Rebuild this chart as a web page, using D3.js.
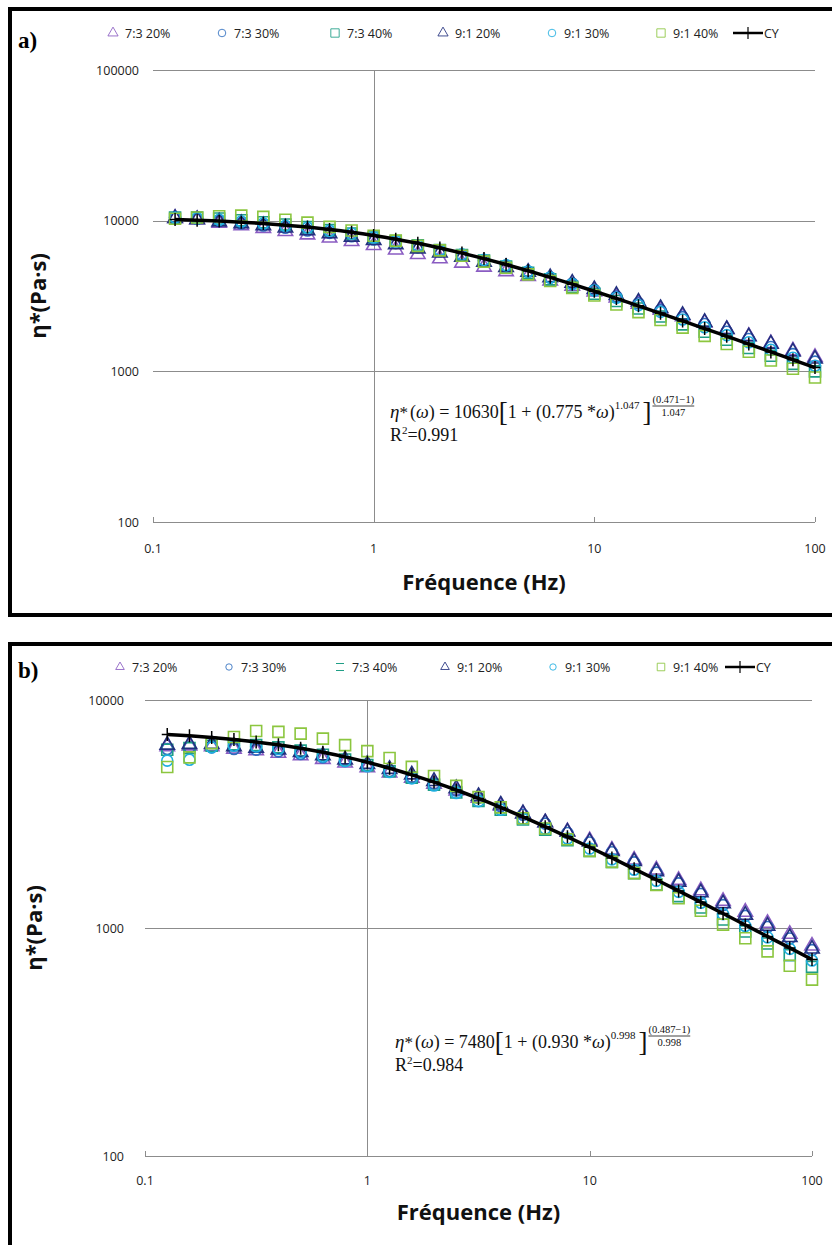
<!DOCTYPE html>
<html><head><meta charset="utf-8">
<script src="https://cdn.jsdelivr.net/npm/d3@7"></script>
<style>body{margin:0;background:#fff;} svg{display:block;}</style>
</head><body><svg id="c" width="832" height="1245"></svg>
<script>
// ---------- DATA ----------
const freq = [0.1259,0.1585,0.1995,0.2512,0.3162,0.3981,0.5012,0.6310,0.7943,1.000,1.259,1.585,1.995,2.512,3.162,3.981,5.012,6.310,7.943,10.00,12.59,15.85,19.95,25.12,31.62,39.81,50.12,63.10,79.43,100.0];
const seriesNames = ["7:3 20%","7:3 30%","7:3 40%","9:1 20%","9:1 30%","9:1 40%"];
const cyName = "CY";

// Panel a)
const a_73_20 = [10390,10180,9640,9290,8910,8500,8070,7690,7290,6860,6410,5980,5600,5240,4930,4600,4280,3990,3680,3370,3080,2800,2550,2310,2100,1900,1710,1530,1370,1240];
const a_73_30 = [10490,10280,9940,9580,9290,8970,8610,8300,7880,7500,7090,6650,6260,5850,5430,5010,4600,4200,3830,3470,3140,2830,2550,2290,2060,1830,1640,1450,1300,1160];
const a_73_40 = [10490,10480,10340,10070,9770,9430,9060,8650,8210,7740,7310,6860,6390,5910,5430,4960,4510,4080,3640,3270,2930,2610,2310,2050,1830,1620,1430,1270,1120,1000];
const a_91_20 = [10390,10180,9840,9580,9290,8970,8610,8220,7790,7420,6930,6510,6130,5730,5320,4910,4560,4200,3860,3500,3200,2890,2620,2360,2120,1900,1700,1520,1350,1210];
const a_91_30 = [10490,10380,10140,9870,9580,9250,8970,8570,8210,7740,7310,6860,6390,5970,5490,5060,4600,4200,3790,3440,3080,2750,2480,2210,1960,1740,1560,1390,1230,1090];
const a_91_40 = [10300,10500,10700,10800,10600,10150,9700,9100,8600,7950,7370,6800,6350,5850,5350,4870,4400,3980,3580,3190,2780,2470,2190,1950,1720,1520,1350,1180,1040,910];
const a_cy    = [10189,10078,9942,9777,9577,9340,9062,8741,8379,7976,7538,7072,6588,6093,5599,5115,4648,4204,3789,3402,3047,2722,2428,2162,1923,1708,1517,1346,1194,1059];

// Panel b)
const b_73_20 = [6250,6300,6250,6100,6000,5850,5700,5500,5300,5050,4800,4550,4280,4000,3720,3430,3160,2900,2650,2420,2200,1990,1800,1620,1460,1310,1175,1050,940,835];
const b_73_30 = [6100,6200,6200,6100,6050,5950,5800,5600,5400,5150,4880,4600,4300,4010,3720,3420,3140,2870,2610,2370,2150,1940,1750,1570,1410,1260,1130,1010,900,800];
const b_73_40 = [6050,6150,6300,6400,6350,6200,6000,5750,5480,5180,4870,4560,4250,3930,3610,3300,2990,2700,2430,2180,1950,1740,1550,1380,1230,1090,965,855,760,675];
const b_91_20 = [6350,6400,6400,6250,6160,6050,5900,5700,5470,5230,4970,4700,4400,4090,3780,3470,3180,2900,2640,2390,2170,1960,1770,1590,1430,1280,1140,1020,910,810];
const b_91_30 = [5420,5470,6200,6300,6250,6100,5900,5650,5400,5120,4830,4530,4220,3910,3600,3300,3010,2730,2470,2230,2000,1800,1610,1440,1290,1150,1020,910,810,720];
const b_91_40 = [5080,5600,6470,6880,7310,7250,7120,6770,6340,5970,5570,5090,4640,4200,3750,3380,3030,2730,2450,2180,1950,1740,1545,1350,1190,1035,902,790,683,594];
const b_cy    = [7065,6968,6852,6713,6550,6360,6143,5899,5629,5335,5022,4697,4364,4030,3700,3379,3073,2783,2512,2261,2029,1818,1627,1454,1298,1157,1031,918,818,727];

const xTicks = [0.1,1,10,100];
const xTickLabels = ["0.1","1","10","100"];
const yTicksA = [100,1000,10000,100000];
const yTickLabelsA = ["100","1000","10000","100000"];
const yTicksB = [100,1000,10000];
const yTickLabelsB = ["100","1000","10000"];

// ---------- STYLE ----------
const markerShapes = ["triangle","circle","square","triangle","circle","square"];
const markerColors = ["#8a5cc2","#2f6fc0","#1f9e86","#22307e","#1faee0","#8cc63f"];

const svg = d3.select("#c");

function markerPath(shape, size){
  const t = shape==="triangle"? d3.symbolTriangle : shape==="circle"? d3.symbolCircle : d3.symbolSquare;
  return d3.symbol().type(t).size(size)();
}
const plusPath = "M-5.5,0H5.5M0,-6.5V6.5";

function drawPanel(cfg){
  const g = svg.append("g");
  g.append("rect").attr("x",10).attr("y",cfg.frameTop).attr("width",900).attr("height",cfg.frameH)
    .attr("fill","none").attr("stroke","#000").attr("stroke-width",4);

  const x = d3.scaleLog().domain([0.1,100]).range([cfg.left,cfg.right]);
  const y = d3.scaleLog().domain(cfg.yDomain).range([cfg.bottom,cfg.top]);

  g.append("g").selectAll("line").data(cfg.yTicks).join("line")
    .attr("x1",cfg.left).attr("x2",cfg.right)
    .attr("y1",d=>Math.round(y(d))+0.5).attr("y2",d=>Math.round(y(d))+0.5)
    .attr("stroke","#8c8c8c").attr("stroke-width",1);
  g.append("line").attr("x1",Math.round(x(1))+0.5).attr("x2",Math.round(x(1))+0.5)
    .attr("y1",cfg.top).attr("y2",cfg.bottom).attr("stroke","#8c8c8c");
  g.append("g").selectAll("line").data(xTicks).join("line")
    .attr("x1",d=>Math.round(x(d))+0.5).attr("x2",d=>Math.round(x(d))+0.5)
    .attr("y1",cfg.bottom-5).attr("y2",cfg.bottom).attr("stroke","#8c8c8c");

  g.append("g").selectAll("text").data(cfg.yTicks).join("text")
    .attr("x",cfg.yLabX).attr("y",d=>y(d)+4.5).attr("text-anchor","end")
    .attr("font-family","Open Sans").attr("font-size",12.5).attr("fill","#222")
    .text((d,i)=>cfg.yTickLabels[i]);
  g.append("g").selectAll("text").data(xTicks).join("text")
    .attr("x",d=>x(d)).attr("y",cfg.xLabY).attr("text-anchor","middle")
    .attr("font-family","Open Sans").attr("font-size",12.5).attr("fill","#222")
    .text((d,i)=>xTickLabels[i]);

  g.append("text").attr("x",(cfg.left+cfg.right)/2).attr("y",cfg.xTitleY).attr("text-anchor","middle")
    .attr("font-family","Open Sans").attr("font-weight","bold").attr("font-size",22).attr("fill","#111")
    .text("Fréquence (Hz)");
  g.append("text").attr("transform",`translate(${cfg.yTitleX},${(cfg.top+cfg.bottom)/2}) rotate(-90)`)
    .attr("text-anchor","middle")
    .attr("font-family","Open Sans").attr("font-weight","bold").attr("font-size",22).attr("fill","#111")
    .text("η*(Pa·s)");

  g.append("text").attr("x",18).attr("y",cfg.letterY)
    .attr("font-family","Liberation Serif").attr("font-weight","bold").attr("font-size",23)
    .text(cfg.letter);

  cfg.series.forEach((vals,si)=>{
    const sh = markerShapes[si];
    g.append("g").selectAll("path").data(vals).join("path")
      .attr("d",markerPath(sh, sh==="square"?121:(sh==="circle"?95:90)))
      .attr("transform",(d,i)=>`translate(${x(freq[i])},${y(d)})`)
      .attr("fill","none").attr("stroke",markerColors[si]).attr("stroke-width",1.6);
  });
  const line = d3.line().x((d,i)=>x(freq[i])).y(d=>y(d)).curve(d3.curveMonotoneX);
  g.append("path").datum(cfg.cy).attr("d",line).attr("fill","none").attr("stroke","#000").attr("stroke-width",3.5);
  g.append("g").selectAll("path").data(cfg.cy).join("path")
    .attr("d",plusPath).attr("transform",(d,i)=>`translate(${x(freq[i])},${y(d)})`)
    .attr("stroke","#000").attr("stroke-width",1.5).attr("fill","none");

  const lg = g.append("g").attr("transform",`translate(0,${cfg.legY})`);
  seriesNames.forEach((n,i)=>{
    const mx = cfg.legX[i];
    if(cfg.dashLegend && i===2){
      lg.append("path").attr("d",`M${mx-4},-3.5H${mx+4}M${mx-4},3.5H${mx+4}`).attr("stroke",markerColors[i]).attr("stroke-width",1.2);
    } else {
      lg.append("path").attr("d",markerPath(markerShapes[i], markerShapes[i]==="square"?cfg.legSz+25:cfg.legSz))
        .attr("transform",`translate(${mx},0)`).attr("fill","none").attr("stroke",markerColors[i]).attr("stroke-width",1).attr("opacity",0.85);
    }
    lg.append("text").attr("x",mx+12).attr("y",4.5).attr("font-family","Open Sans").attr("font-size",12.5).attr("fill","#222").text(n);
  });
  const cx = cfg.legX[6];
  lg.append("line").attr("x1",cx).attr("x2",cx+30).attr("y1",0).attr("y2",0).attr("stroke","#000").attr("stroke-width",2.5);
  lg.append("path").attr("d",`M${cx+15},-6V6`).attr("stroke","#000").attr("stroke-width",1.2);
  lg.append("text").attr("x",cx+31).attr("y",4.5).attr("font-family","Open Sans").attr("font-size",12.5).attr("fill","#222").text(cyName);

  drawEquation(g, cfg.eqX, cfg.eqY, cfg.eq);
}

function drawEquation(g, x0, y0, eq){
  const font = "Liberation Serif";
  let cx = x0;
  const put = (t, size, italic, dy, gap) => {
    const el = g.append("text").attr("x",cx).attr("y",y0+(dy||0)).attr("font-family",font)
      .attr("font-size",size).attr("font-style",italic?"italic":"normal").attr("fill","#111").text(t);
    cx += el.node().getComputedTextLength() + (gap||0);
    return el;
  };
  put("η",19,true); put("*",17,false,0,2); put("(",18); put("ω",18,true); put(") = "+eq.eta0,18);
  put("[",27,false,3); put("1 + (",18); put(eq.lam+" * ",18); put("ω",18,true); put(")",18);
  put(eq.a,11,false,-9,3);
  put("]",27,false,3);
  const fx = cx+1;
  const num = g.append("text").attr("x",fx).attr("y",y0-15).attr("font-family",font).attr("font-size",10.5).attr("fill","#111").text(`(${eq.n}−1)`);
  const w = num.node().getComputedTextLength();
  g.append("line").attr("x1",fx).attr("x2",fx+w).attr("y1",y0-12).attr("y2",y0-12).attr("stroke","#111").attr("stroke-width",0.8);
  g.append("text").attr("x",fx+w/2).attr("y",y0-2).attr("text-anchor","middle").attr("font-family",font).attr("font-size",10.5).attr("fill","#111").text(eq.a);
  const r = g.append("text").attr("x",x0).attr("y",y0+23).attr("font-family",font).attr("font-size",18).attr("fill","#111");
  r.append("tspan").text("R");
  r.append("tspan").attr("font-size",11).attr("dy",-7).text("2");
  r.append("tspan").attr("dy",7).text("="+eq.r2);
}

drawPanel({
  letter:"a)", letterY:48, frameTop:9, frameH:606,
  left:153, right:815, top:70, bottom:522, yDomain:[100,100000],
  yTicks:yTicksA, yTickLabels:yTickLabelsA, yLabX:139, xLabY:553, xTitleY:590, yTitleX:46,
  series:[a_73_20,a_73_30,a_73_40,a_91_20,a_91_30,a_91_40], cy:a_cy,
  legY:33, legX:[113,222,335,443,552,661,733], legSz:45, dashLegend:false,
  eqX:390, eqY:418, eq:{eta0:"10630", lam:"0.775", a:"1.047", n:"0.471", r2:"0.991"}
});
drawPanel({
  letter:"b)", letterY:678, frameTop:644, frameH:700,
  left:145, right:812, top:700, bottom:1156, yDomain:[100,10000],
  yTicks:yTicksB, yTickLabels:yTickLabelsB, yLabX:124, xLabY:1185, xTitleY:1220, yTitleX:42,
  series:[b_73_20,b_73_30,b_73_40,b_91_20,b_91_30,b_91_40], cy:b_cy,
  legY:667, legX:[120,229,340,445,553,661,725], legSz:32, dashLegend:true,
  eqX:395, eqY:1048, eq:{eta0:"7480", lam:"0.930", a:"0.998", n:"0.487", r2:"0.984"}
});
</script></body></html>
